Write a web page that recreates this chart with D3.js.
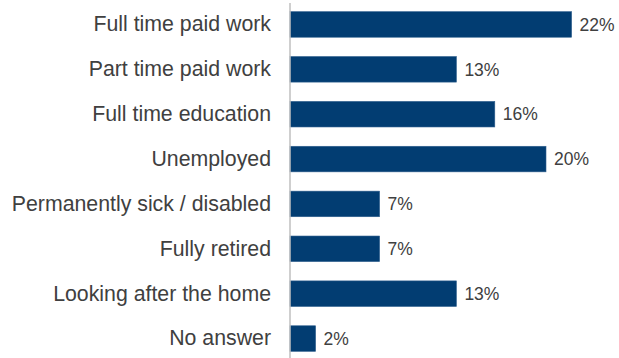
<!DOCTYPE html>
<html>
<head>
<meta charset="utf-8">
<script src="https://cdn.jsdelivr.net/npm/d3@7"></script>
<style>
  html, body { margin: 0; padding: 0; background: #fff; }
  svg { display: block; }
</style>
</head>
<body>
<svg id="chart" width="619" height="358"></svg>
<script>
// Working status of respondents (% of all answers)
const categories = [
  "Full time paid work",
  "Part time paid work",
  "Full time education",
  "Unemployed",
  "Permanently sick / disabled",
  "Fully retired",
  "Looking after the home",
  "No answer"
];
const values = [22, 13, 16, 20, 7, 7, 13, 2];
const valueLabels = ["22%", "13%", "16%", "20%", "7%", "7%", "13%", "2%"];

const svg = d3.select("#chart");
const axisX = 290;

const x = d3.scaleLinear()
  .domain([0, 22])
  .range([axisX, axisX + 22 * 12.8]);

const y = d3.scaleBand()
  .domain(categories)
  .range([2, 361])
  .paddingInner(0.43)
  .paddingOuter(0.215);

const font = "'Liberation Sans', Arial, sans-serif";

// bars
svg.append("g")
  .selectAll("rect")
  .data(values)
  .join("rect")
  .attr("x", x(0))
  .attr("y", (d, i) => y(categories[i]))
  .attr("width", d => x(d) - x(0))
  .attr("height", y.bandwidth())
  .attr("fill", "#023d72")
  .attr("stroke", "#2f5f8e")
  .attr("stroke-width", 0.6);

// category axis
const axis = d3.axisLeft(y).tickSize(0).tickPadding(19);
const gAxis = svg.append("g")
  .attr("transform", `translate(${axisX},0)`)
  .call(axis);
gAxis.select(".domain")
  .attr("d", "M0,3V358")
  .attr("stroke", "#bfbfbf")
  .attr("stroke-width", 1.5);
gAxis.selectAll("text")
  .attr("font-family", font)
  .attr("font-size", "21.3px")
  .attr("fill", "#404040");

// value labels
svg.append("g")
  .selectAll("text")
  .data(values)
  .join("text")
  .attr("x", d => x(d) + 8)
  .attr("y", (d, i) => y(categories[i]) + y.bandwidth() / 2)
  .attr("dy", "0.36em")
  .attr("font-family", font)
  .attr("font-size", "17.5px")
  .attr("fill", "#404040")
  .text((d, i) => valueLabels[i]);
</script>
</body>
</html>
